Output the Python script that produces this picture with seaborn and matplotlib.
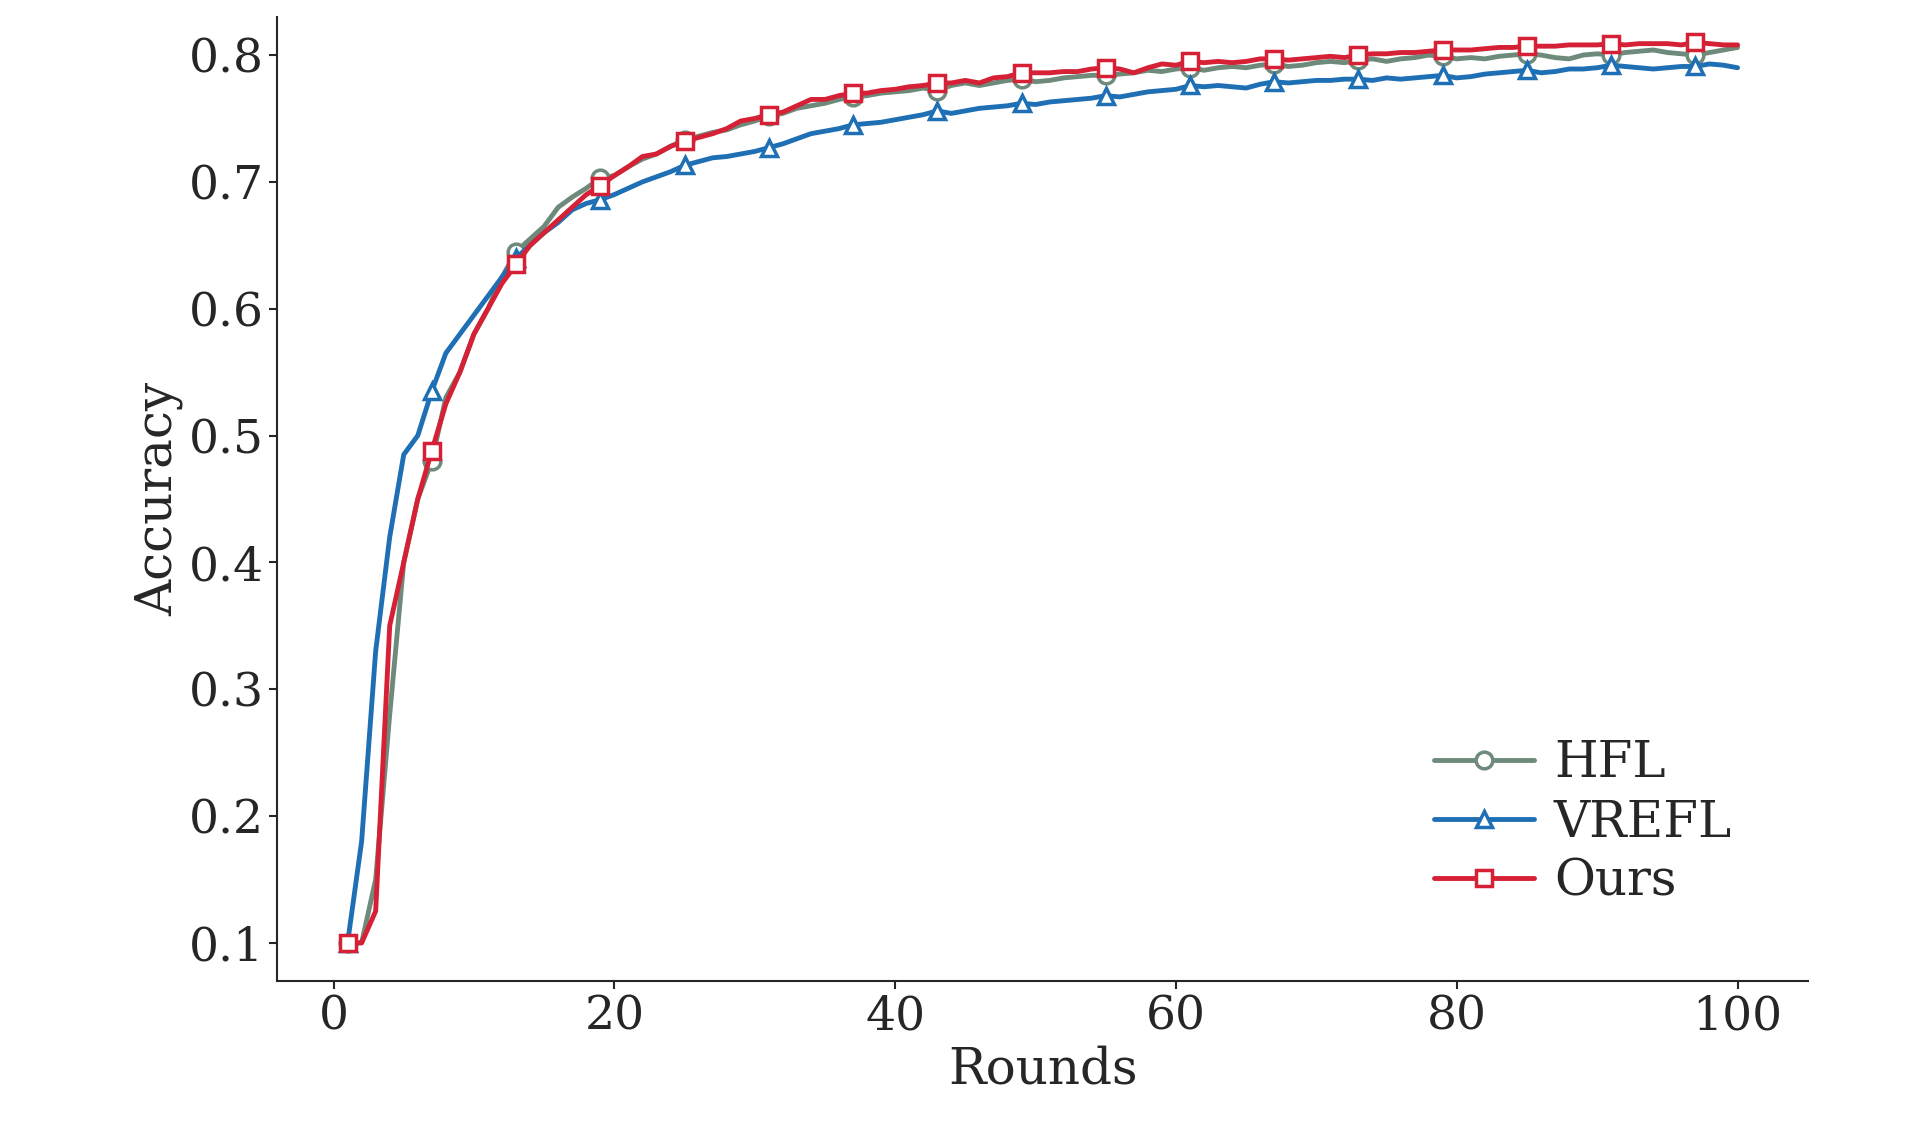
import matplotlib
matplotlib.use("Agg")
import matplotlib.pyplot as plt
import numpy as np
import seaborn as sns

sns.set_theme(style="ticks")
plt.rcParams['font.family'] = ['DejaVu Serif']

rounds = list(range(1, 101))

hfl = [0.100, 0.100, 0.150, 0.280, 0.400, 0.450, 0.480, 0.530, 0.550, 0.580,
       0.600, 0.625, 0.645, 0.655, 0.665, 0.680, 0.688, 0.695, 0.703, 0.705,
       0.712, 0.718, 0.722, 0.728, 0.733, 0.736, 0.739, 0.741, 0.745, 0.748,
       0.752, 0.754, 0.758, 0.760, 0.762, 0.765, 0.767, 0.768, 0.770, 0.771,
       0.772, 0.774, 0.772, 0.776, 0.778, 0.776, 0.778, 0.780, 0.781, 0.779,
       0.780, 0.782, 0.783, 0.784, 0.784, 0.785, 0.786, 0.788, 0.787, 0.789,
       0.790, 0.788, 0.790, 0.791, 0.790, 0.792, 0.793, 0.791, 0.792, 0.794,
       0.795, 0.794, 0.796, 0.797, 0.795, 0.797, 0.798, 0.800, 0.799, 0.797,
       0.798, 0.797, 0.799, 0.800, 0.801, 0.800, 0.798, 0.797, 0.800, 0.801,
       0.800, 0.802, 0.803, 0.804, 0.802, 0.801, 0.800, 0.802, 0.804, 0.806]

vrefl = [0.100, 0.180, 0.330, 0.420, 0.485, 0.500, 0.535, 0.565, 0.580, 0.595,
         0.610, 0.625, 0.640, 0.650, 0.660, 0.668, 0.678, 0.683, 0.686, 0.690,
         0.695, 0.700, 0.704, 0.708, 0.713, 0.716, 0.719, 0.720, 0.722, 0.724,
         0.727, 0.730, 0.734, 0.738, 0.740, 0.742, 0.745, 0.746, 0.747, 0.749,
         0.751, 0.753, 0.756, 0.754, 0.756, 0.758, 0.759, 0.760, 0.762, 0.761,
         0.763, 0.764, 0.765, 0.766, 0.768, 0.767, 0.769, 0.771, 0.772, 0.773,
         0.776, 0.775, 0.776, 0.775, 0.774, 0.777, 0.779, 0.778, 0.779, 0.780,
         0.780, 0.781, 0.781, 0.780, 0.782, 0.781, 0.782, 0.783, 0.784, 0.782,
         0.783, 0.785, 0.786, 0.787, 0.788, 0.786, 0.787, 0.789, 0.789, 0.790,
         0.792, 0.791, 0.790, 0.789, 0.790, 0.791, 0.791, 0.793, 0.792, 0.790]

ours = [0.100, 0.100, 0.125, 0.350, 0.400, 0.450, 0.488, 0.525, 0.550, 0.580,
        0.600, 0.620, 0.635, 0.650, 0.660, 0.670, 0.680, 0.690, 0.697, 0.705,
        0.712, 0.720, 0.722, 0.728, 0.732, 0.735, 0.738, 0.742, 0.748, 0.750,
        0.753, 0.755, 0.760, 0.765, 0.765, 0.768, 0.770, 0.770, 0.772, 0.773,
        0.775, 0.776, 0.778, 0.778, 0.780, 0.778, 0.782, 0.783, 0.786, 0.786,
        0.786, 0.787, 0.787, 0.789, 0.790, 0.789, 0.786, 0.790, 0.793, 0.792,
        0.795, 0.794, 0.795, 0.794, 0.795, 0.797, 0.797, 0.796, 0.797, 0.798,
        0.799, 0.798, 0.800, 0.801, 0.801, 0.802, 0.802, 0.803, 0.804, 0.804,
        0.804, 0.805, 0.806, 0.806, 0.807, 0.807, 0.807, 0.808, 0.808, 0.808,
        0.809, 0.808, 0.809, 0.809, 0.809, 0.808, 0.810, 0.809, 0.808, 0.808]

names = ["HFL", "VREFL", "Ours"]
series = [hfl, vrefl, ours]
colors = ["#6e8a7a", "#1f6fb5", "#d62035"]
markers = ["o", "^", "s"]

fig, ax = plt.subplots(figsize=(19.13, 11.34), dpi=100)
plt.subplots_adjust(left=0.145, right=0.945, top=0.985, bottom=0.135)

for name, vals, c, m in zip(names, series, colors, markers):
    sns.lineplot(x=rounds, y=vals, color=c, marker=m, label=name,
                 markevery=list(range(0, 100, 6)), linewidth=3.5,
                 markersize=12, markerfacecolor="white", markeredgecolor=c,
                 markeredgewidth=2.5, ax=ax)

ax.set_xlim(-4, 105)
ax.set_ylim(0.07, 0.83)
ax.set_xticks(np.arange(0, 101, 20))
ax.set_yticks(np.arange(0.1, 0.81, 0.1))
ax.set_yticklabels(["0.1", "0.2", "0.3", "0.4", "0.5", "0.6", "0.7", "0.8"])
ax.tick_params(labelsize=34, length=6, width=1.5, direction="out")
ax.set_xlabel("Rounds", fontsize=36)
ax.set_ylabel("Accuracy", fontsize=36)
for s in ["top", "right"]:
    ax.spines[s].set_visible(False)
for s in ["left", "bottom"]:
    ax.spines[s].set_linewidth(1.5)

ax.legend(loc="lower right", bbox_to_anchor=(0.98, 0.03), fontsize=36,
          frameon=False, handlelength=2.0, labelspacing=0.2, handletextpad=0.4)

plt.savefig("out.png")
